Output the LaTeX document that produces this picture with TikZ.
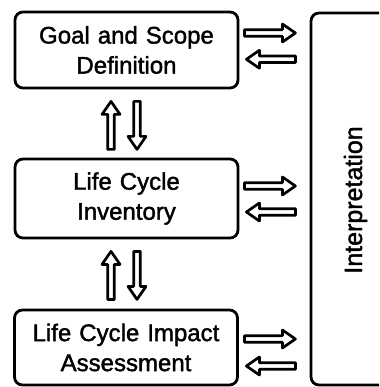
\documentclass[tikz,border=0pt]{standalone}
\usepackage{fontspec}
\setmainfont{Liberation Sans}
\newfontfamily\inkfont[FakeBold=1.6]{Liberation Sans}
\usetikzlibrary{calc}
\begin{document}
\begin{tikzpicture}[
  x=1pt, y=-1pt,
  line join=round,
  stagebox/.style={draw, line width=2.8pt, rounded corners=8pt,
    minimum width=223pt, text width=215pt, align=center,
    font=\inkfont\fontsize{24}{30}\selectfont, inner sep=0pt},
  arrowline/.style={draw, line width=2.7pt, fill=white},
  pics/fatarrow/.style={code={
    \draw[arrowline] (0,-3.3) -- (#1-13,-3.3) -- (#1-13,-9) -- (#1,0)
      -- (#1-13,9) -- (#1-13,3.3) -- (0,3.3) -- cycle;}}
]
\useasboundingbox (0,0) rectangle (379,387);
\clip (0,0) rectangle (379,387);

% the three phases
\node[stagebox, minimum height=76pt] (gsd) at (126.5,50) {Goal and Scope\\Definition};
\node[stagebox, minimum height=79pt] (lci) at (126.5,198.5) {Life Cycle\\Inventory};
\node[stagebox, minimum height=75pt] (lcia) at (126,347.5) {Life Cycle Impact\\Assessment};

% interpretation frame, running past the right edge
\draw[line width=2.8pt, rounded corners=8pt] (400,13) -- (311,13) -- (311,385) -- (400,385);
\coordinate (interpmid) at (362,200);
\node[rotate=90, anchor=base, inner sep=0pt, font=\inkfont\fontsize{25}{30}\selectfont] (interp) at (interpmid) {Interpretation};

% exchange arrows between the phases and interpretation
\pic (g1) at ($(gsd.east)+(5,-17)$) {fatarrow=51};
\pic[rotate=180] (g2) at ($(gsd.east)+(56,9.3)$) {fatarrow=49};
\pic (i1) at ($(lci.east)+(5,-12.5)$) {fatarrow=51};
\pic[rotate=180] (i2) at ($(lci.east)+(56,13.5)$) {fatarrow=49};
\pic (a1) at ($(lcia.east)+(5.5,-8.5)$) {fatarrow=51};
\pic[rotate=180] (a2) at ($(lcia.east)+(56.5,18.5)$) {fatarrow=49};

% arrows between successive phases
\pic[rotate=90] (v1) at ($(gsd.south)+(-15.5,60)$) {fatarrow=48};
\pic[rotate=-90] (v2) at ($(gsd.south)+(10.5,12)$) {fatarrow=48};
\pic[rotate=90] (v3) at ($(lci.south)+(-15.5,60)$) {fatarrow=48};
\pic[rotate=-90] (v4) at ($(lci.south)+(10.5,12)$) {fatarrow=48};
\end{tikzpicture}
\end{document}
